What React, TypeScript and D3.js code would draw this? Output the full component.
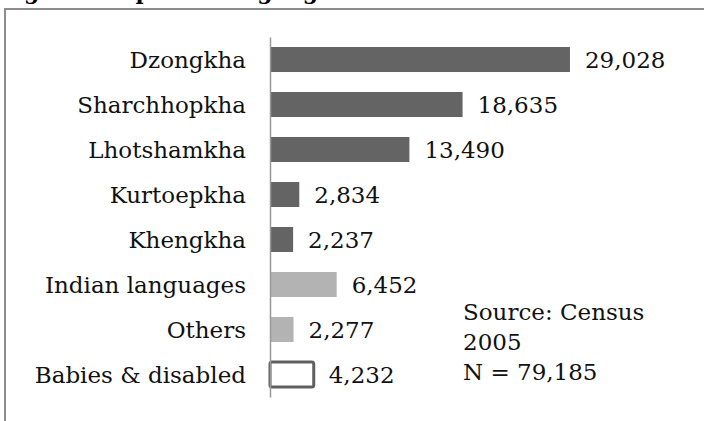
import React, { useEffect, useRef } from 'react'
import * as d3 from 'd3'

const languages = ['Dzongkha', 'Sharchhopkha', 'Lhotshamkha', 'Kurtoepkha', 'Khengkha', 'Indian languages', 'Others', 'Babies & disabled']
const speakers = [29028, 18635, 13490, 2834, 2237, 6452, 2277, 4232]
const groups = ['national', 'national', 'national', 'national', 'national', 'foreign', 'foreign', 'none']
const sourceLines = ['Source: Census', '2005', 'N = 79,185']
const title = 'Figure 4: Spoken languages'

function LanguageBarChart() {
  const ref = useRef<SVGSVGElement>(null)

  useEffect(() => {
    drawChart()
  })

  function drawChart() {
    const width = 704
    const height = 421
    const font = '"DejaVu Serif", serif'
    const fontSize = 23

    const svg = d3.select(ref.current)
    svg.selectAll('*').remove()

    svg.append('rect').attr('width', width).attr('height', height).attr('fill', 'white')

    // title sits above the crop, only descenders show
    svg.append('text')
      .attr('x', 0)
      .attr('y', -1)
      .style('font-family', font)
      .style('font-weight', 'bold')
      .style('font-size', 22)
      .text(title)

    // frame (top and left edges)
    svg.append('path')
      .attr('d', `M5,421 L5,9 L704,9`)
      .attr('fill', 'none')
      .attr('stroke', '#8c8c8c')
      .attr('stroke-width', 2)

    const data = languages.map((lang, i) => ({ lang, value: speakers[i], group: groups[i] }))

    const yScale = d3.scaleBand()
      .domain(languages)
      .range([37, 397])
      .paddingInner(0.444)
      .paddingOuter(0.222)

    const xScale = d3.scaleLinear()
      .domain([0, 30000])
      .range([270, 580])

    const fill = (g: string) => g === 'national' ? '#646464' : g === 'foreign' ? '#b3b3b3' : 'white'

    svg.append('g')
      .selectAll('.bar')
      .data(data)
      .enter()
      .append('rect')
        .attr('class', 'bar')
        .attr('x', xScale(0))
        .attr('y', d => yScale(d.lang)!)
        .attr('width', d => xScale(d.value) - xScale(0))
        .attr('height', yScale.bandwidth())
        .attr('rx', d => d.group === 'none' ? 2 : 0)
        .attr('fill', d => fill(d.group))
        .attr('stroke', d => d.group === 'none' ? '#5f5f5f' : 'none')
        .attr('stroke-width', 3)

    // axis line
    const yAxis = d3.axisLeft(yScale).tickSize(0).tickFormat(() => '')
    const axisG = svg.append('g')
      .attr('transform', `translate(${xScale(0)},0)`)
      .call(yAxis)
    axisG.select('.domain').attr('stroke', '#999').attr('stroke-width', 1.5)

    // category labels
    svg.append('g')
      .selectAll('text')
      .data(data)
      .enter()
      .append('text')
        .attr('x', xScale(0) - 24)
        .attr('y', d => yScale(d.lang)! + yScale.bandwidth() / 2)
        .attr('dy', '0.36em')
        .style('text-anchor', 'end')
        .style('font-family', font)
        .style('font-size', fontSize)
        .attr('fill', '#111')
        .text(d => d.lang)

    // value labels
    svg.append('g')
      .selectAll('text')
      .data(data)
      .enter()
      .append('text')
        .attr('x', d => xScale(d.value) + 15)
        .attr('y', d => yScale(d.lang)! + yScale.bandwidth() / 2)
        .attr('dy', '0.36em')
        .style('font-family', font)
        .style('font-size', fontSize)
        .attr('fill', '#111')
        .text(d => d3.format(',')(d.value))

    // source note
    svg.append('g')
      .selectAll('text')
      .data(sourceLines)
      .enter()
      .append('text')
        .attr('x', 463)
        .attr('y', (d, i) => 320 + i * 30)
        .style('font-family', font)
        .style('font-size', fontSize)
        .attr('fill', '#111')
        .text(d => d)
  }

  return <svg ref={ref} width={704} height={421} style={{ position: 'absolute', left: 0, top: 0 }} />
}

export default function App() {
  return <LanguageBarChart />
}
